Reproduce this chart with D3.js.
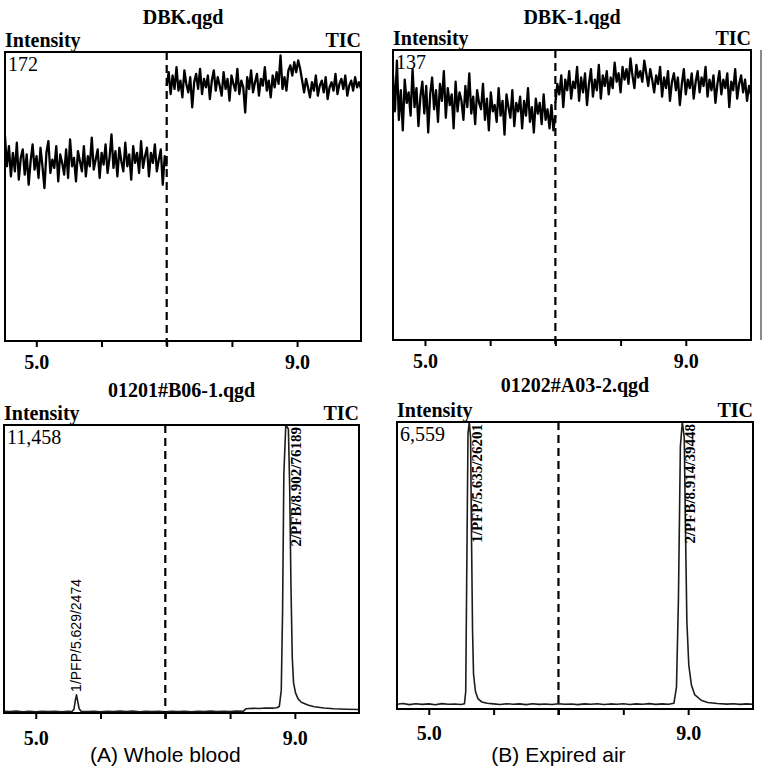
<!DOCTYPE html>
<html>
<head>
<meta charset="utf-8">
<script src="https://cdn.jsdelivr.net/npm/d3@7"></script>
<style>
  body { margin: 0; background: #fff; }
  .serif { font-family: "Liberation Serif", "DejaVu Serif", serif; }
  .sans { font-family: "Liberation Sans", Arial, sans-serif; }
</style>
</head>
<body>
<script>
// ---------------- DATA ----------------
const xTickValues = [5.0, 6.0, 7.0, 8.0, 9.0];
const xTickLabels = ["5.0", "", "", "", "9.0"];
const markerTime = 7.0;

// Panel titles / maxima
const panelTitles = ["DBK.qgd", "DBK-1.qgd", "01201#B06-1.qgd", "01202#A03-2.qgd"];
const panelMax = [172, 137, 11458, 6559];
const panelMaxLabels = ["172", "137", "11,458", "6,559"];
const panelCaptions = ["", "", "(A) Whole blood", "(B) Expired air"];
const timeRanges = [[4.52, 9.98], [4.51, 10.0], [4.51, 9.99], [4.51, 10.0]];

// Blank (DBK) traces: intensity samples, before and after 7.0 min
const dbkBefore = [122,104,116,98,112,101,118,96,109,114,
  99,111,93,107,117,102,110,97,115,104,
  91,112,119,100,108,103,116,95,111,106,
  99,114,97,120,104,109,95,113,107,101,
  116,98,110,104,121,102,108,114,97,112,
  105,117,100,109,123,103,113,98,115,107,
  101,118,104,111,96,116,106,112,100,119,
  103,110,115,98,112,106,117,101,108,114,
  93,110,104];
const dbkAfter = [152,160,147,158,150,163,149,155,145,161,153,148,157,139,154,159,150,162,147,156,
  151,158,144,155,161,149,157,152,146,160,150,156,143,158,153,149,162,147,155,151,
  136,157,150,161,148,154,159,146,156,152,163,149,155,145,158,151,160,153,170,150,
  157,149,161,164,158,166,160,167,162,155,148,156,151,145,154,149,158,146,152,155,
  148,157,144,151,154,149,159,147,153,156,150,158,146,152,155,149,157,151,154,150];
const dbk1Before = [125,108,132,104,118,99,123,112,117,106,128,110,119,101,115,122,107,120,98,116,
  124,109,118,103,121,113,127,105,119,111,116,100,122,108,117,113,104,120,110,126,
  107,115,102,118,112,109,121,104,114,99,117,108,111,103,119,106,113,97,116,110,
  105,118,101,112,108,115,100,113,106,119,103,110,98,114,107,112,102,116,104,109,
  100,111,99,106];
const dbk1After = [112,121,116,125,110,123,118,127,114,122,119,129,113,124,117,126,111,121,128,115,
  123,118,130,114,125,120,127,116,124,119,131,122,126,117,129,123,128,121,133,125,
  119,130,124,127,122,132,126,120,128,123,117,125,121,129,115,124,119,127,113,122,
  126,118,124,111,121,128,116,123,119,126,114,122,127,117,124,120,129,115,123,118,
  125,112,121,127,116,123,119,126,110,122,118,128,114,121,125,117,123,113,120,116];

// Sample traces: [time (min), intensity]
const bloodTrace = [[4.51,70],[4.6,55],[4.7,75],[4.8,50],[4.9,68],[5.0,48],[5.1,72],[5.2,58],[5.3,65],[5.4,52],
  [5.5,70],[5.56,60],[5.59,150],[5.61,480],[5.629,720],[5.645,500],[5.67,170],[5.7,70],[5.8,56],[5.9,72],
  [6.0,50],[6.1,68],[6.2,54],[6.3,73],[6.4,60],[6.5,75],[6.6,52],[6.7,66],[6.8,58],[6.9,72],
  [7.0,50],[7.1,70],[7.2,56],[7.3,68],[7.4,50],[7.5,72],[7.6,60],[7.7,75],[7.8,55],[7.9,70],
  [8.0,62],[8.1,76],[8.2,65],[8.25,170],[8.35,190],[8.45,180],[8.55,200],[8.65,195],[8.72,210],[8.76,260],
  [8.79,900],[8.81,4000],[8.83,9500],[8.86,11458],[8.9,11300],[8.92,9000],[8.94,5000],[8.96,2200],[8.98,1200],[9.01,800],
  [9.05,560],[9.1,430],[9.2,320],[9.3,250],[9.45,200],[9.6,170],[9.8,150],[9.99,140]];
const airTrace = [[4.51,110],[4.6,125],[4.7,100],[4.8,120],[4.9,105],[5.0,118],[5.1,98],[5.2,122],[5.3,108],[5.4,115],
  [5.5,102],[5.55,118],[5.57,400],[5.585,3000],[5.605,6300],[5.625,6559],[5.645,6200],[5.66,3800],[5.675,1800],[5.69,800],
  [5.72,400],[5.76,230],[5.82,160],[5.9,130],[6.0,118],[6.1,104],[6.2,121],[6.3,109],[6.4,117],[6.5,100],
  [6.6,119],[6.7,106],[6.8,116],[6.9,103],[7.0,120],[7.1,108],[7.2,115],[7.3,101],[7.4,118],[7.5,107],
  [7.6,121],[7.7,104],[7.8,116],[7.9,110],[8.0,119],[8.1,102],[8.2,117],[8.3,108],[8.4,122],[8.5,106],
  [8.6,118],[8.7,110],[8.78,130],[8.82,500],[8.85,2500],[8.88,6000],[8.91,6559],[8.94,6200],[8.96,4000],[8.98,2000],
  [9.01,1000],[9.05,550],[9.1,330],[9.2,200],[9.3,150],[9.45,125],[9.6,112],[9.7,120],[9.8,105],[9.9,118],[10.0,110]];

const bloodPeaks = [{t: 5.629, label: "1/PFP/5.629/2474"}, {t: 8.902, label: "2/PFB/8.902/76189"}];
const airPeaks = [{t: 5.635, label: "1/PFP/5.635/26201"}, {t: 8.914, label: "2/PFB/8.914/39448"}];

// ---------------- LAYOUT ----------------
const panels = [
  {left: 5, right: 361, top: 52, bottom: 341, tickPad: 8},
  {left: 393, right: 751, top: 50, bottom: 340, tickPad: 8},
  {left: 4, right: 359, top: 425, bottom: 713, tickPad: 12},
  {left: 397, right: 753, top: 422, bottom: 709, tickPad: 11}
];
const titleY = [24, 24, 397, 392];

function segmentPoints(values, t0, t1) {
  const s = d3.scaleLinear().domain([0, values.length - 1]).range([t0, t1]);
  return values.map((v, i) => [s(i), v]);
}

const traces = [
  [segmentPoints(dbkBefore, timeRanges[0][0], markerTime), segmentPoints(dbkAfter, markerTime, timeRanges[0][1])],
  [segmentPoints(dbk1Before, timeRanges[1][0], markerTime), segmentPoints(dbk1After, markerTime, timeRanges[1][1])],
  [bloodTrace],
  [airTrace]
];
const peaks = [[], [], bloodPeaks, airPeaks];

const svg = d3.select("body").append("svg").attr("width", 767).attr("height", 767);

panels.forEach((p, i) => {
  const x = d3.scaleLinear().domain(timeRanges[i]).range([p.left, p.right]);
  const y = d3.scaleLinear().domain([0, panelMax[i]]).range([p.bottom, p.top]);
  const g = svg.append("g");

  g.append("clipPath").attr("id", "clip" + i)
    .append("rect").attr("x", p.left).attr("y", p.top)
    .attr("width", p.right - p.left).attr("height", p.bottom - p.top);

  // title
  g.append("text").attr("class", "serif")
    .attr("x", (p.left + p.right) / 2).attr("y", titleY[i])
    .attr("text-anchor", "middle").style("font-size", "20px").style("font-weight", "bold")
    .text(panelTitles[i]);
  g.append("text").attr("class", "serif")
    .attr("x", p.left).attr("y", p.top - 5)
    .style("font-size", "20px").style("font-weight", "bold").text("Intensity");
  g.append("text").attr("class", "serif")
    .attr("x", p.right).attr("y", p.top - 5).attr("text-anchor", "end")
    .style("font-size", "20px").style("font-weight", "bold").text("TIC");

  // traces
  const line = d3.line().x(d => x(d[0])).y(d => y(d[1]));
  traces[i].forEach(seg => {
    g.append("path").attr("d", line(seg))
      .attr("clip-path", `url(#clip${i})`)
      .attr("fill", "none")
      .attr("stroke", i < 2 ? "#000" : "#1c1c1c")
      .attr("stroke-width", i < 2 ? 2.3 : 1.6)
      .attr("stroke-linejoin", "round");
  });

  // max label
  g.append("text").attr("class", "serif")
    .attr("x", p.left + 3).attr("y", p.top + 19)
    .style("font-size", "20px").text(panelMaxLabels[i]);

  // dashed marker
  g.append("line")
    .attr("x1", x(markerTime)).attr("x2", x(markerTime))
    .attr("y1", p.top).attr("y2", p.bottom + 6)
    .attr("stroke", "#000").attr("stroke-width", 2.2).attr("stroke-dasharray", "8,5");

  // frame
  g.append("rect").attr("x", p.left).attr("y", p.top)
    .attr("width", p.right - p.left).attr("height", p.bottom - p.top)
    .attr("fill", "none").attr("stroke", "#000").attr("stroke-width", 2);

  // axis
  const axis = d3.axisBottom(x).tickValues(xTickValues).tickSize(6).tickPadding(p.tickPad)
    .tickFormat((d, k) => xTickLabels[k]);
  const ag = g.append("g").attr("transform", `translate(0,${p.bottom})`).call(axis);
  ag.select(".domain").remove();
  ag.selectAll(".tick line").attr("stroke", "#000").attr("stroke-width", 2);
  ag.selectAll(".tick text").attr("class", "serif").attr("fill", "#000")
    .style("font-size", "20px").style("font-weight", "bold");

  // peak labels
  const trace = traces[i][0];
  peaks[i].forEach(pk => {
    const near = trace.filter(d => Math.abs(d[0] - pk.t) < 0.08);
    const apex = d3.max(near, d => d[1]);
    const yA = y(apex);
    const saturated = yA < p.top + 140;
    const t = g.append("text");
    if (saturated) {
      t.attr("class", "serif").style("font-size", "15px").style("font-weight", "bold")
        .attr("text-anchor", "end")
        .attr("transform", `translate(${x(pk.t) + 12},${p.top + 2}) rotate(-90)`);
    } else {
      t.attr("class", "sans").style("font-size", "14px")
        .attr("text-anchor", "start")
        .attr("transform", `translate(${x(pk.t) + 5},${yA - 3}) rotate(-90)`);
    }
    t.text(pk.label);
  });

  if (panelCaptions[i]) {
    g.append("text").attr("class", "sans")
      .attr("x", x(markerTime)).attr("y", 762).attr("text-anchor", "middle")
      .style("font-size", "21px").text(panelCaptions[i]);
  }
});

// scanning artefact line at far right of upper-right panel
svg.append("line").attr("x1", 761).attr("x2", 761).attr("y1", panels[1].top).attr("y2", panels[1].bottom)
  .attr("stroke", "#8a8a8a").attr("stroke-width", 2);
</script>
</body>
</html>
